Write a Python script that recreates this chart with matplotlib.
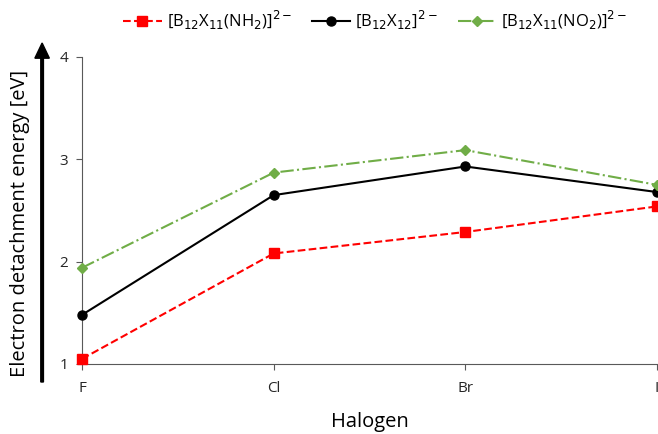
import matplotlib.pyplot as plt
import numpy as np

plt.rcParams['font.family'] = ['Open Sans', 'DejaVu Sans']

halogens = ['F', 'Cl', 'Br', 'I']
nh2 = [1.05, 2.08, 2.29, 2.54]
x12 = [1.48, 2.65, 2.93, 2.68]
no2 = [1.94, 2.87, 3.09, 2.75]

fig = plt.figure(figsize=(6.58, 4.34), dpi=100)
ax = fig.add_axes([0.1246, 0.1613, 0.874, 0.7074])

x = np.arange(len(halogens))
ax.plot(x, nh2, color='#ff0000', ls='--', lw=1.5, marker='s', ms=6.5,
        label=r'[B$_{12}$X$_{11}$(NH$_2$)]$^{2-}$', clip_on=False, zorder=3)
ax.plot(x, x12, color='black', ls='-', lw=1.5, marker='o', ms=6.5,
        label=r'[B$_{12}$X$_{12}$]$^{2-}$', clip_on=False, zorder=3)
ax.plot(x, no2, color='#70ad47', ls='-.', lw=1.5, marker='D', ms=5,
        label=r'[B$_{12}$X$_{11}$(NO$_2$)]$^{2-}$', clip_on=False, zorder=3)

ax.set_xlim(0, 3)
ax.set_ylim(1, 4)
ax.set_xticks(x)
ax.set_xticklabels(halogens)
ax.set_yticks([1, 2, 3, 4])
ax.tick_params(labelsize=11, color='#595959', labelcolor='#262626', length=4)
for s in ['top', 'right']:
    ax.spines[s].set_visible(False)
for s in ['left', 'bottom']:
    ax.spines[s].set_color('#595959')
ax.xaxis.set_tick_params(pad=8)
ax.yaxis.set_tick_params(pad=6)
ax.set_xlabel('Halogen', fontsize=14.5, labelpad=12)

# y label with arrow
fig.text(0.03, 0.485, 'Electron detachment energy [eV]', rotation=90,
         fontsize=14.5, ha='center', va='center')
fig.patches.append(plt.matplotlib.patches.FancyArrow(
    0.064, 1 - 382 / 434, 0, (382 - 43) / 434, width=0.004,
    head_width=0.022, head_length=0.035, color='black',
    length_includes_head=True, transform=fig.transFigure, figure=fig))

ax.legend(loc='center', bbox_to_anchor=(0.57, 0.953), bbox_transform=fig.transFigure,
          ncol=3, frameon=False, fontsize=12, handlelength=2.3,
          columnspacing=1.2, handletextpad=0.3)

fig.savefig('out.png', dpi=100)
